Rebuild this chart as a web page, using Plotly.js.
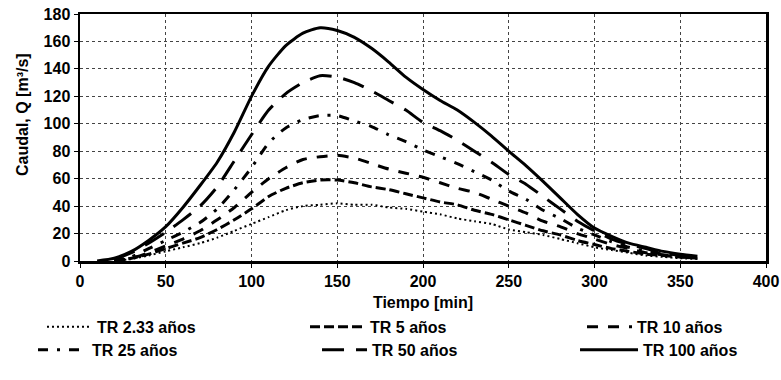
<!DOCTYPE html>
<html>
<head>
<meta charset="utf-8">
<script src="https://cdn.plot.ly/plotly-3.0.1.min.js"></script>
<style>html,body{margin:0;padding:0;background:#fff;}#chart{width:781px;height:380px;}</style>
</head>
<body>
<div id="chart"></div>
<script>
// Tiempo [min]
const tiempo100 = [10,20,30,40,50,60,70,80,90,100,110,120,130,140,150,160,170,180,190,200,210,220,230,240,250,260,270,280,290,300,310,320,330,340,350,360];
const tiempo = [20,30,40,50,60,70,80,90,100,110,120,130,140,150,160,170,180,190,200,210,220,230,240,250,260,270,280,290,300,310,320,330,340,350,360];
// Caudal Q [m3/s]
const tr2_33 = [0,1.5,4,7,10,13,17,22,27,32,37,40,41,42,41,41,39,38,36,34,31,29,27,23,21,19,16,13,10,8,6,4,3,2,1.5];
const tr5 = [0,2,5,9,13,17,23,30,38,47,53,57,59,59,57,54,52,49,46,43,41,37,34,30,26,22,19,15,12,9,7,5,4,3,2];
const tr10 = [0,2,6,11,16,22,30,39,50,60,68,74,76,77,75,71,67,64,61,57,53,50,45,40,35,29,25,20,16,12,9,6,4.5,3,2];
const tr25 = [0,3,9,15,21,28,38,52,68,86,97,103,106,106,102,98,92,87,81,76,71,65,59,51,45,37,31,24,19,14,10,7,5,3.5,2.5];
const tr50 = [1,6,13,21,30,40,54,73,92,110,122,130,135,134,130,124,117,110,101,95,88,80,72,63,56,47,38,29,22,16,12,9,6,4,3];
const tr100 = [0,2,7,15,25,39,55,72,94,120,142,157,166,170,168,163,155,145,134,125,117,110,101,91,80,69.5,58,46,34,24,18,13,10,7,5,3.5];
const nombres = ["TR 2.33 años","TR 5 años","TR 10 años","TR 25 años","TR 50 años","TR 100 años"];

const FONT = "Liberation Sans, Arial, sans-serif";
function tr(x, y, name, dash, width, legend) {
  return {x: x, y: y, name: name, type: 'scatter', mode: 'lines',
    line: {color: '#000', width: width, dash: dash, shape: 'spline', smoothing: 0.6},
    legend: legend, hoverinfo: 'skip'};
}
const data = [
  tr(tiempo, tr2_33, nombres[0], '2px,3px', 2, 'legend'),
  tr(tiempo, tr5, nombres[1], '10px,4px', 3, 'legend2'),
  tr(tiempo, tr10, nombres[2], '11px,10px', 3, 'legend3'),
  tr(tiempo, tr25, nombres[3], '10px,9px,3px,9px', 3, 'legend4'),
  tr(tiempo, tr50, nombres[4], '22px,12px', 3, 'legend5'),
  tr(tiempo100, tr100, nombres[5], 'solid', 3, 'legend6')
];
function leg(x, y, iw) {
  return {orientation: 'h', xanchor: 'left', yanchor: 'middle', x: x, y: y, itemwidth: iw,
    font: {family: FONT, size: 16, color: '#000', weight: 'bold'}, bgcolor: 'rgba(0,0,0,0)'};
}
const layout = {
  width: 781, height: 380,
  margin: {l: 80, r: 15, t: 14, b: 119, autoexpand: false},
  paper_bgcolor: '#fff', plot_bgcolor: '#fff',
  showlegend: true,
  font: {family: FONT, size: 16, color: '#000', weight: 'bold'},
  xaxis: {range: [0, 400], dtick: 50, tick0: 0, showgrid: true, gridcolor: '#444', griddash: 'dot', gridwidth: 1,
    showline: true, linecolor: '#000', linewidth: 2.5, mirror: true, ticks: 'outside', ticklen: 4, tickcolor: '#000',
    zeroline: false, tickfont: {family: FONT, size: 16, weight: 'bold'},
    title: {text: 'Tiempo [min]', font: {family: FONT, size: 16, weight: 'bold'}, standoff: 8}},
  yaxis: {range: [0, 180], dtick: 20, tick0: 0, showgrid: true, gridcolor: '#444', griddash: 'dot', gridwidth: 1,
    showline: true, linecolor: '#000', linewidth: 2.5, mirror: true, ticks: 'outside', ticklen: 4, tickcolor: '#000',
    zeroline: false, tickfont: {family: FONT, size: 16, weight: 'bold'}},
  annotations: [{text: 'Caudal, Q [m³/s]', textangle: -90, xref: 'paper', yref: 'paper',
    x: (22 - 80) / 686, y: (261 - 115) / 247, xanchor: 'center', yanchor: 'middle', showarrow: false,
    font: {family: FONT, size: 16, weight: 'bold', color: '#000'}}],
  legend: leg(-0.0554, -0.267, 45),
  legend2: leg(0.328, -0.267, 55),
  legend3: leg(0.7318, -0.267, 45),
  legend4: leg(-0.0685, -0.360, 49),
  legend5: leg(0.3455, -0.360, 45),
  legend6: leg(0.7216, -0.360, 58)
};
Plotly.newPlot('chart', data, layout, {displayModeBar: false, staticPlot: true});
</script>
</body>
</html>
